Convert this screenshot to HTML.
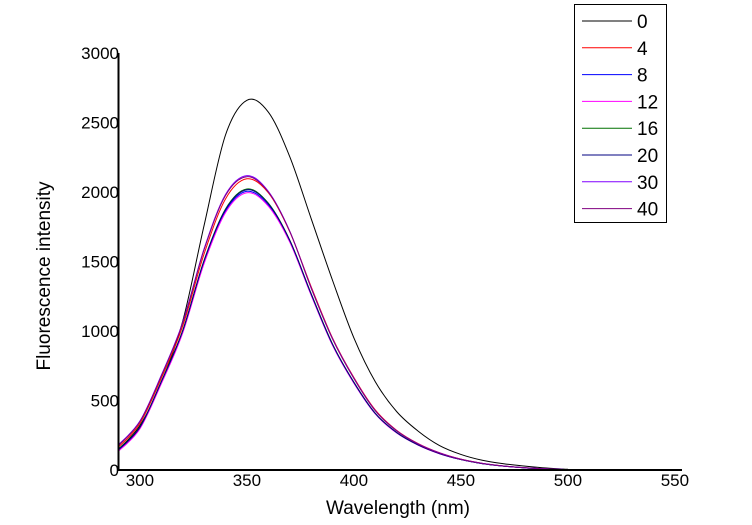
<!DOCTYPE html>
<html><head><meta charset="utf-8"><style>
body{margin:0;background:#fff;}
svg{display:block;font-family:"Liberation Sans",Arial,sans-serif;}
</style></head><body>
<svg id="chart" width="752" height="525" viewBox="0 0 752 525"></svg>
<script>
const wavelengths=[290,300,310,320,330,340,350,360,370,380,390,400,410,420,430,440,450,460,470,480,490,500];
const s0 =[150,320,630,1070,1760,2410,2660,2575,2255,1810,1365,950,635,420,280,176,112,70,45,28,14,5];
const s4 =[165,335,660,1035,1555,1950,2095,1995,1715,1320,950,665,432,285,190,124,78,48,29,16,8,3];
const s8 =[140,302,628,995,1495,1862,2005,1905,1645,1262,900,627,405,268,180,118,75,46,28,15,8,3];
const s12=[135,296,620,985,1485,1852,1995,1898,1640,1258,897,624,403,266,179,117,75,46,28,15,8,3];
const s16=[148,310,638,1005,1510,1878,2022,1920,1655,1270,907,632,408,270,181,119,75,46,28,15,8,3];
const s20=[146,307,634,1000,1505,1872,2016,1915,1652,1267,904,630,407,269,180,118,75,46,28,15,8,3];
const s30=[182,352,682,1062,1592,1982,2118,2005,1720,1312,945,660,427,282,188,123,77,48,29,16,8,3];
const s40=[176,348,676,1056,1585,1975,2110,2000,1717,1310,943,658,426,281,187,122,77,48,29,16,8,3];
const seriesNames=["0","4","8","12","16","20","30","40"];
const seriesData=[s0,s4,s8,s12,s16,s20,s30,s40];
const colors=["#000","#ff0000","#0000ff","#ff00ff","#007000","#000080","#8000ff","#800080"];
const xTicks=[300,350,400,450,500,550];
const yTicks=[0,500,1000,1500,2000,2500,3000];

const NS="http://www.w3.org/2000/svg";
const svg=document.getElementById('chart');
const X0=118.5,Y0=470,Y1=53,XPX=107/50;
const xs=v=>X0+(v-290)*XPX;
const ys=v=>Y0-v/3000*(Y0-Y1);
function mk(t,a,txt){const e=document.createElementNS(NS,t);for(const k in a)e.setAttribute(k,a[k]);if(txt!==undefined)e.textContent=txt;svg.appendChild(e);return e;}

seriesData.forEach((d,si)=>{
  const p=wavelengths.map((w,i)=>[xs(w),ys(d[i])]);
  let s="M"+p[0][0]+","+p[0][1];
  for(let i=0;i<p.length-1;i++){
    const a=p[Math.max(0,i-1)],b=p[i],c=p[i+1],e=p[Math.min(p.length-1,i+2)];
    s+=" C"+(b[0]+(c[0]-a[0])/6)+","+(b[1]+(c[1]-a[1])/6)+" "+(c[0]-(e[0]-b[0])/6)+","+(c[1]-(e[1]-b[1])/6)+" "+c[0]+","+c[1];
  }
  const el=mk('path',{d:s,fill:'none',stroke:colors[si],'stroke-width':1});
  
  
});

const ax=mk('path',{d:`M${X0},${Y1} L${X0},${Y0} L682,${Y0}`,fill:'none',stroke:'#000','stroke-width':2});



xTicks.forEach(v=>{
  const t=mk('text',{x:xs(v),y:486,'text-anchor':'middle','font-size':17},v);
  
  
});
yTicks.forEach(v=>{
  const t=mk('text',{x:119,y:ys(v)+6,'text-anchor':'end','font-size':17},v);
  
  
});
const xt=mk('text',{x:398,y:514,'text-anchor':'middle','font-size':19},'Wavelength (nm)');


const yt=mk('text',{x:0,y:0,'text-anchor':'middle','font-size':19,transform:'translate(50,276) rotate(-90)'},'Fluorescence intensity');



const lg=mk('rect',{x:574.5,y:4.5,width:92,height:218,fill:'#fff',stroke:'#000','stroke-width':1});


seriesNames.forEach((n,i)=>{
  const y=21+i*26.8;
  const l=mk('line',{x1:582,x2:632,y1:y,y2:y,stroke:colors[i],'stroke-width':1});
  
  
  const t=mk('text',{x:637,y:y+7,'font-size':19},n);
  
  
});
</script>
</body></html>
